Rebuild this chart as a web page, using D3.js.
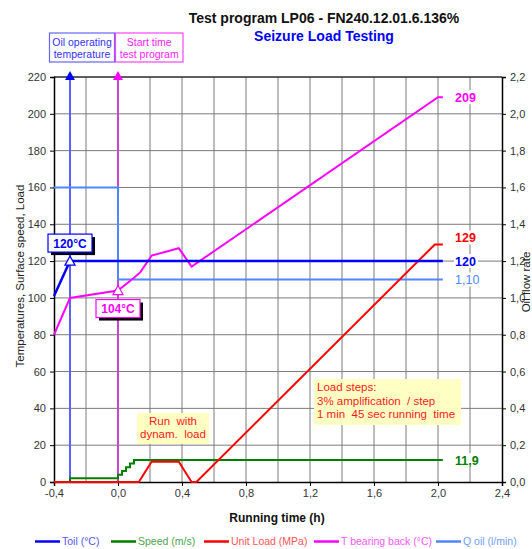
<!DOCTYPE html>
<html>
<head>
<meta charset="utf-8">
<script src="https://cdn.jsdelivr.net/npm/d3@7"></script>
<style>
  body { margin: 0; background: #fff; }
  svg { font-family: 'Liberation Sans', Arial, sans-serif; }
</style>
</head>
<body>
<div id="chart"></div>
<script>
// data: [running time (h), value]
const toil = [[-0.4, 101], [-0.3, 120], [2.03, 120]]
const speed = [[-0.3, 0], [-0.3, 2], [0, 4], [0.025, 6], [0.05, 8], [0.075, 10], [0.1, 11.9], [2.03, 11.9]]
const unitLoad = [[-0.4, 0], [0.13, 0], [0.21, 11], [0.38, 11], [0.46, 0], [0.49, 0], [1.98, 129], [2.03, 129]]
const tBearing = [[-0.4, 80], [-0.3, 100], [0, 104], [0.1, 111], [0.14, 114], [0.21, 123], [0.38, 127], [0.46, 117], [2.0, 209], [2.03, 209]]
const qOil = [[-0.4, 1.6], [0, 1.6], [0, 1.1], [2.03, 1.1]]

const xTicks = [-0.4, 0, 0.4, 0.8, 1.2, 1.6, 2.0, 2.4]
const yTicks = [0, 20, 40, 60, 80, 100, 120, 140, 160, 180, 200, 220]
const y2Ticks = [0, 0.2, 0.4, 0.6, 0.8, 1.0, 1.2, 1.4, 1.6, 1.8, 2.0, 2.2]

const oilTempTime = -0.3
const startTime = 0
const endLabels = [
  { text: '209', value: 209, color: '#ff00ff', bold: true, dy: 0 },
  { text: '129', value: 129, color: '#ff0000', bold: true, dy: -7 },
  { text: '120', value: 120, color: '#0000ff', bold: true, dy: 0 },
  { text: '1,10', value: 110, color: '#4d88ff', bold: false, dy: 0 },
  { text: '11,9', value: 11.9, color: '#008000', bold: true, dy: 0 }
]

const legendItems = [
  { name: 'Toil (°C)', color: '#0000ff', text: '#5555ff' },
  { name: 'Speed (m/s)', color: '#008000', text: '#4ca64c' },
  { name: 'Unit Load (MPa)', color: '#ff0000', text: '#ff5555' },
  { name: 'T bearing back (°C)', color: '#ff00ff', text: '#ff55ff' },
  { name: 'Q oil (l/min)', color: '#4d88ff', text: '#6f9dff' }
]

const margin = { top: 77, right: 30, bottom: 67, left: 54 }
const width = 532 - margin.left - margin.right
const height = 549 - margin.top - margin.bottom

const root = d3
  .select('#chart')
  .append('svg')
  .attr('width', 532)
  .attr('height', 549)

const svg = root
  .append('g')
  .attr('transform', `translate(${margin.left}, ${margin.top})`)

const x = d3.scaleLinear().domain([-0.4, 2.4]).range([0, width])
const y = d3.scaleLinear().domain([0, 220]).range([height, 0])
const y2 = d3.scaleLinear().domain([0, 2.2]).range([height, 0])

const fmt = d3.format('.1f')
const comma = v => fmt(v).replace('.', ',').replace('\u2212', '-')

// grid
svg
  .selectAll('.vgrid')
  .data(d3.range(-0.2, 2.4, 0.2))
  .enter()
  .append('line')
  .attr('x1', d => x(d))
  .attr('x2', d => x(d))
  .attr('y1', 0)
  .attr('y2', height)
  .attr('stroke', '#7a7a7a')
  .attr('stroke-width', 1)

svg
  .selectAll('.hgrid')
  .data(yTicks.slice(1))
  .enter()
  .append('line')
  .attr('x1', 0)
  .attr('x2', width)
  .attr('y1', d => y(d))
  .attr('y2', d => y(d))
  .attr('stroke', '#7a7a7a')
  .attr('stroke-width', 1)

// axes
const yAxis = d3.axisLeft(y).tickValues(yTicks).tickSize(4).tickPadding(4)
svg.append('g').attr('class', 'axis').call(yAxis)

const y2Axis = d3.axisRight(y2).tickValues(y2Ticks).tickSize(4).tickPadding(4).tickFormat(comma)
svg.append('g').attr('class', 'axis').attr('transform', `translate(${width},0)`).call(y2Axis)

const xAxis = d3.axisBottom(x).tickValues(xTicks).tickSize(4).tickPadding(3).tickFormat(comma)
svg.append('g').attr('class', 'axis').attr('transform', `translate(0,${height})`).call(xAxis)

svg.append('line').attr('x1', 0).attr('x2', width).attr('y1', 0).attr('y2', 0).attr('stroke', '#000')

svg.selectAll('.axis .domain').attr('stroke', '#000').attr('stroke-width', 1.5)
svg.selectAll('.axis line').attr('stroke', '#000')
svg.selectAll('.axis text').attr('font-size', 11).attr('fill', '#333')

// axis titles
root
  .append('text')
  .attr('transform', 'translate(24,276) rotate(-90)')
  .attr('text-anchor', 'middle')
  .attr('font-size', 11.5)
  .attr('fill', '#222')
  .text('Temperatures, Surface speed, Load')

root
  .append('text')
  .attr('transform', 'translate(530,282) rotate(-90)')
  .attr('text-anchor', 'middle')
  .attr('font-size', 11.5)
  .attr('fill', '#222')
  .text('Oil flow rate')

root
  .append('text')
  .attr('x', 277)
  .attr('y', 522)
  .attr('text-anchor', 'middle')
  .attr('font-size', 12)
  .attr('font-weight', 'bold')
  .attr('fill', '#111')
  .text('Running time (h)')

// titles
root
  .append('text')
  .attr('x', 324)
  .attr('y', 23)
  .attr('text-anchor', 'middle')
  .attr('font-size', 14)
  .attr('font-weight', 'bold')
  .attr('fill', '#111')
  .text('Test program LP06 - FN240.12.01.6.136%')

root
  .append('text')
  .attr('x', 324)
  .attr('y', 41)
  .attr('text-anchor', 'middle')
  .attr('font-size', 14)
  .attr('font-weight', 'bold')
  .attr('fill', '#0000ff')
  .text('Seizure Load Testing')

// marker lines
const markerLines = [
  { t: oilTempTime, color: '#5f5fff', arrow: '#0000ff' },
  { t: startTime, color: '#cc44cc', arrow: '#ff00ff' }
]
markerLines.forEach(m => {
  svg
    .append('line')
    .attr('x1', x(m.t))
    .attr('x2', x(m.t))
    .attr('y1', y(0))
    .attr('y2', y(220))
    .attr('stroke', m.color)
    .attr('stroke-width', 2)
  svg
    .append('path')
    .attr('transform', `translate(${x(m.t)},${y(220)})`)
    .attr('d', 'M-5,3 L0,-6 L5,3 Z')
    .attr('fill', m.arrow)
})

// series
const line = d3.line().x(d => x(d[0])).y(d => y(d[1]))
const line2 = d3.line().x(d => x(d[0])).y(d => y2(d[1]))
const stepLine = d3.line().x(d => x(d[0])).y(d => y(d[1])).curve(d3.curveStepAfter)

svg.append('path').datum(qOil).attr('d', line2).attr('fill', 'none').attr('stroke', '#4d88ff').attr('stroke-width', 2)
svg.append('path').datum(speed).attr('d', stepLine).attr('fill', 'none').attr('stroke', '#008000').attr('stroke-width', 2)
svg.append('path').datum(unitLoad).attr('d', line).attr('fill', 'none').attr('stroke', '#ff0000').attr('stroke-width', 2)
svg.append('path').datum(tBearing).attr('d', line).attr('fill', 'none').attr('stroke', '#ff00ff').attr('stroke-width', 2)
svg.append('path').datum(toil).attr('d', line).attr('fill', 'none').attr('stroke', '#0000ff').attr('stroke-width', 2.5)

// open triangle markers
const markPoints = [
  { p: toil[1], color: '#0000ff' },
  { p: tBearing[2], color: '#ff00ff' }
]
markPoints.forEach(m => {
  svg
    .append('path')
    .attr('transform', `translate(${x(m.p[0])},${y(m.p[1])})`)
    .attr('d', 'M-5,4 L0,-5 L5,4 Z')
    .attr('fill', '#fff')
    .attr('stroke', m.color)
    .attr('stroke-width', 1.2)
})

// value boxes with shadow
function valueBox(cx, top, label, color) {
  const w = 44
  const h = 18
  svg.append('rect').attr('x', cx - w / 2 + 3).attr('y', top + 3).attr('width', w).attr('height', h).attr('fill', '#000')
  svg.append('rect').attr('x', cx - w / 2).attr('y', top).attr('width', w).attr('height', h).attr('fill', '#fff').attr('stroke', color).attr('stroke-width', 1.2)
  svg.append('text').attr('x', cx).attr('y', top + 13.5).attr('text-anchor', 'middle').attr('font-size', 12).attr('font-weight', 'bold').attr('fill', color).text(label)
}
valueBox(x(toil[1][0]), y(toil[1][1]) - 27, '120°C', '#0000ff')
valueBox(x(tBearing[2][0]), y(tBearing[2][1]) + 9, '104°C', '#ff00ff')

// header boxes
function headerBox(x0, x1, lines, border, color) {
  root.append('rect').attr('x', x0).attr('y', 33).attr('width', x1 - x0).attr('height', 29).attr('fill', '#fff').attr('stroke', border).attr('stroke-width', 1.2)
  lines.forEach((t, i) => {
    root.append('text').attr('x', (x0 + x1) / 2).attr('y', 46 + i * 12).attr('text-anchor', 'middle').attr('font-size', 10.5).attr('fill', color).text(t)
  })
}
headerBox(49.5, 114.5, ['Oil operating', 'temperature'], '#6666ff', '#3333ff')
headerBox(115.5, 183, ['Start time', 'test program'], '#ff44ff', '#ff22ff')

// note boxes
function noteBox(x0, y0, w, h, lines, anchor, lineH) {
  root.append('rect').attr('x', x0).attr('y', y0).attr('width', w).attr('height', h).attr('fill', '#ffffc4')
  lines.forEach((t, i) => {
    root
      .append('text')
      .attr('x', anchor === 'middle' ? x0 + w / 2 : x0 + 3)
      .attr('y', y0 + 12 + i * lineH)
      .attr('text-anchor', anchor)
      .attr('font-size', 11.5)
      .attr('fill', '#ff1a1a')
      .attr('xml:space', 'preserve')
      .text(t)
  })
}
noteBox(137, 413, 72, 31, ['Run  with', 'dynam.  load'], 'middle', 13)
noteBox(314, 379, 147, 46, ['Load steps:', '3% amplification  / step', '1 min  45 sec running  time'], 'start', 13.5)

// end labels
endLabels.forEach(l => {
  const cy = y(l.value) + l.dy
  svg.append('rect').attr('x', 400).attr('y', cy - 7).attr('width', 24).attr('height', 14).attr('fill', '#fff')
  svg
    .append('text')
    .attr('x', 401)
    .attr('y', cy + 4.5)
    .attr('font-size', 12.5)
    .attr('font-weight', l.bold ? 'bold' : 'normal')
    .attr('fill', l.color)
    .text(l.text)
})

// legend
const legendX = [35, 111, 204, 314, 436]
legendItems.forEach((d, i) => {
  root.append('line').attr('x1', legendX[i]).attr('x2', legendX[i] + 25).attr('y1', 541.5).attr('y2', 541.5).attr('stroke', d.color).attr('stroke-width', 2.5)
  root.append('text').attr('x', legendX[i] + 27).attr('y', 545).attr('font-size', 10.5).attr('fill', d.text).text(d.name)
})
</script>
</body>
</html>
